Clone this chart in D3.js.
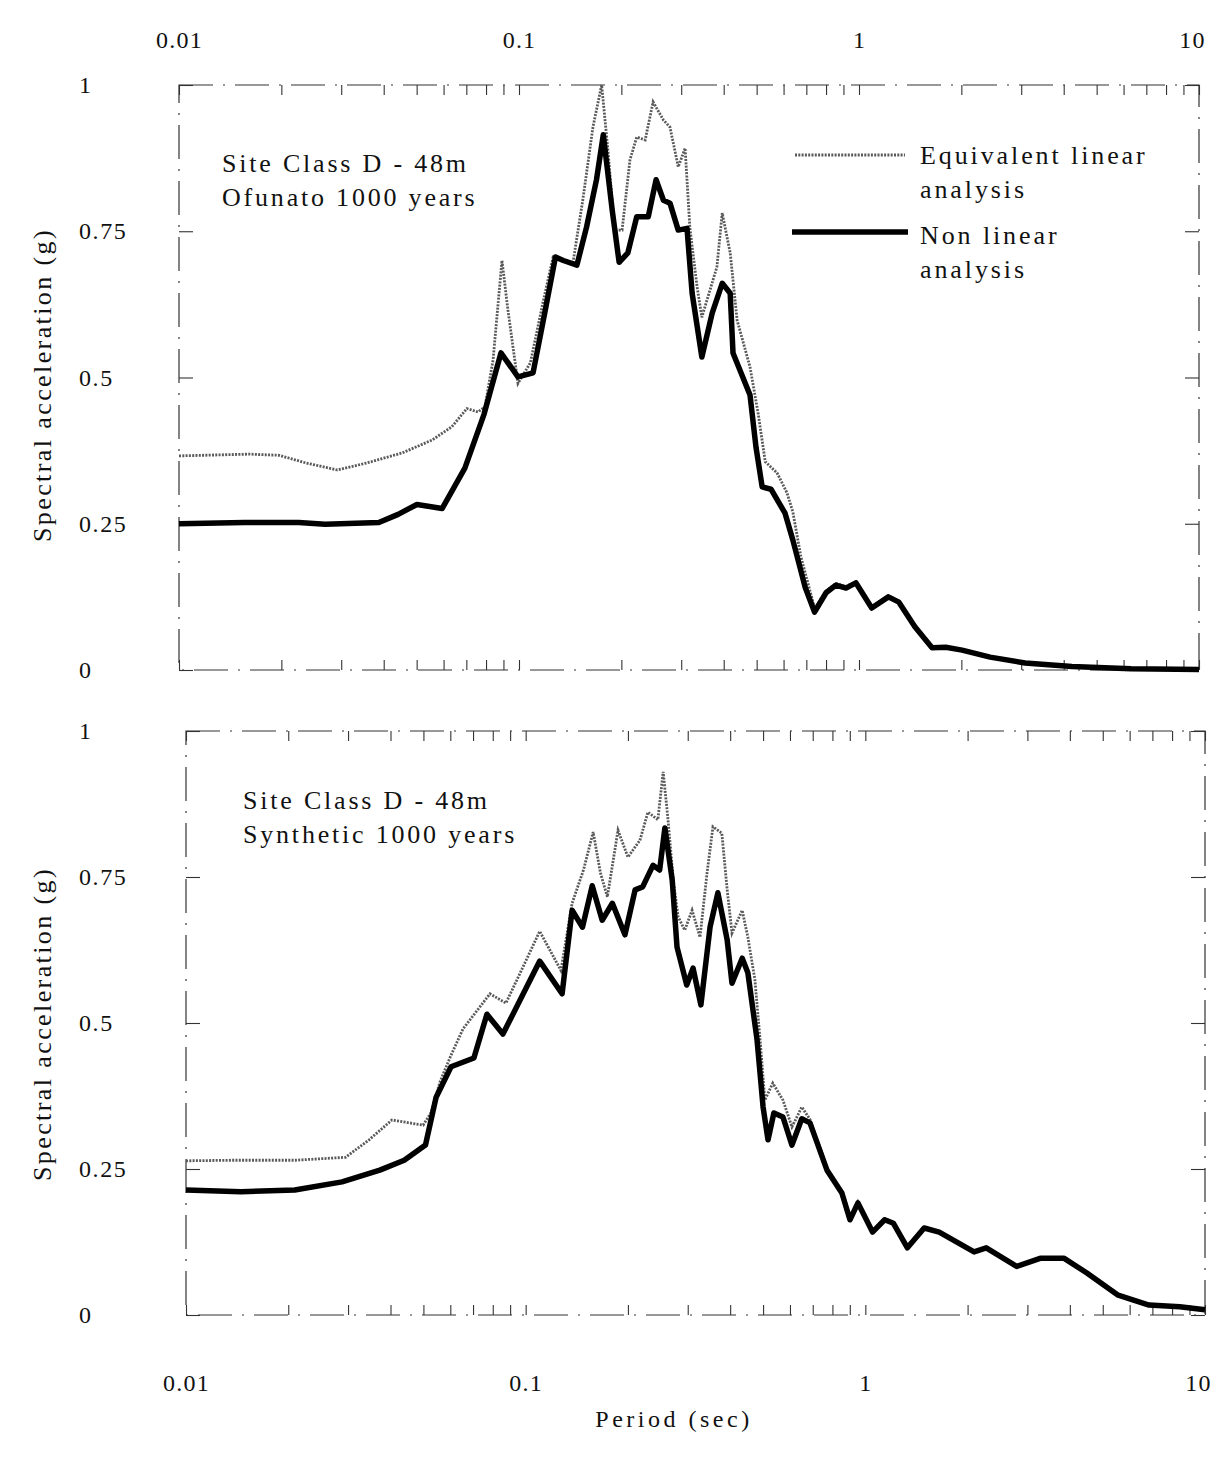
<!DOCTYPE html>
<html><head><meta charset="utf-8">
<script src="https://cdn.jsdelivr.net/npm/d3@7"></script>
<style>
body{margin:0;background:#fff}
svg{display:block}
text{font-family:"Liberation Serif","Times New Roman",serif;fill:#111}
</style>
</head><body>
<svg id="chart" width="1217" height="1458"></svg>
<script>
// ---------- data ----------
const xTickValues = [0.01, 0.1, 1, 10];
const yTickValues = [0, 0.25, 0.5, 0.75, 1];
const seriesNames = [["Equivalent linear", "analysis"], ["Non linear", "analysis"]];
const panelTitles = [["Site Class D - 48m", "Ofunato 1000 years"], ["Site Class D - 48m", "Synthetic 1000 years"]];
const xTitle = "Period (sec)";
const yTitle = "Spectral acceleration (g)";

const ofunatoNlPeriod = [0.01,0.0156,0.0225,0.0269,0.0387,0.0441,0.0501,0.0594,0.0693,0.0789,0.0885,0.0993,0.110,0.119,0.128,0.135,0.148,0.158,0.169,0.177,0.188,0.197,0.209,0.222,0.240,0.253,0.266,0.278,0.294,0.312,0.323,0.345,0.370,0.396,0.418,0.426,0.478,0.498,0.519,0.551,0.606,0.639,0.694,0.740,0.800,0.855,0.916,0.979,1.09,1.22,1.31,1.46,1.64,1.80,2.01,2.43,3.08,4.23,6.31,10];
const ofunatoNlValue = [0.250,0.252,0.252,0.249,0.252,0.266,0.283,0.276,0.345,0.437,0.542,0.501,0.508,0.610,0.706,0.700,0.692,0.757,0.838,0.915,0.786,0.697,0.713,0.775,0.775,0.838,0.803,0.798,0.752,0.755,0.644,0.535,0.610,0.661,0.644,0.542,0.470,0.380,0.313,0.309,0.268,0.222,0.142,0.099,0.132,0.145,0.140,0.149,0.106,0.125,0.116,0.074,0.038,0.039,0.034,0.022,0.012,0.006,0.002,0.001];

const ofunatoEqPeriod = [0.01,0.0161,0.0197,0.0236,0.0292,0.0357,0.0453,0.0555,0.0635,0.0703,0.0757,0.0794,0.0839,0.0891,0.0928,0.0993,0.108,0.118,0.126,0.144,0.154,0.165,0.175,0.183,0.191,0.201,0.212,0.222,0.235,0.248,0.266,0.278,0.294,0.308,0.318,0.334,0.345,0.382,0.396,0.418,0.438,0.478,0.505,0.530,0.574,0.614,0.639,0.675,0.720,0.740,0.800,0.855,0.916,0.979,1.09,1.22,1.31,1.46,1.64,1.80,2.01,2.43,3.08,4.23,6.31,10];
const ofunatoEqValue = [0.366,0.369,0.367,0.354,0.342,0.354,0.371,0.393,0.416,0.447,0.441,0.450,0.530,0.700,0.615,0.490,0.525,0.632,0.706,0.695,0.803,0.928,1.000,0.883,0.752,0.752,0.872,0.911,0.906,0.971,0.940,0.928,0.860,0.892,0.757,0.655,0.603,0.689,0.781,0.713,0.598,0.518,0.439,0.356,0.337,0.303,0.270,0.193,0.132,0.105,0.135,0.148,0.143,0.151,0.108,0.127,0.118,0.075,0.039,0.040,0.035,0.023,0.013,0.006,0.002,0.001];

const syntheticNlPeriod = [0.01,0.0145,0.0209,0.0288,0.0372,0.0439,0.0507,0.0545,0.0603,0.0704,0.0769,0.0857,0.110,0.128,0.137,0.147,0.157,0.168,0.180,0.196,0.210,0.221,0.237,0.248,0.257,0.270,0.279,0.298,0.311,0.328,0.349,0.368,0.392,0.405,0.434,0.451,0.480,0.500,0.517,0.538,0.572,0.608,0.650,0.687,0.771,0.853,0.901,0.951,1.05,1.14,1.21,1.33,1.49,1.65,2.09,2.27,2.79,3.27,3.85,4.49,5.55,6.84,8.43,10];
const syntheticNlValue = [0.214,0.211,0.214,0.228,0.248,0.265,0.291,0.373,0.425,0.440,0.515,0.481,0.606,0.550,0.693,0.664,0.735,0.676,0.705,0.651,0.728,0.733,0.770,0.762,0.834,0.745,0.630,0.565,0.594,0.531,0.664,0.723,0.642,0.568,0.611,0.586,0.471,0.356,0.300,0.346,0.339,0.291,0.336,0.329,0.248,0.209,0.163,0.192,0.142,0.163,0.157,0.115,0.149,0.142,0.108,0.115,0.083,0.097,0.097,0.072,0.034,0.017,0.014,0.009];

const syntheticEqPeriod = [0.01,0.0138,0.0209,0.0295,0.0346,0.0404,0.0499,0.0526,0.056,0.0603,0.0654,0.0785,0.0875,0.110,0.127,0.137,0.148,0.158,0.166,0.174,0.187,0.200,0.217,0.229,0.245,0.254,0.262,0.272,0.281,0.294,0.309,0.326,0.342,0.356,0.378,0.392,0.405,0.434,0.451,0.473,0.490,0.506,0.534,0.572,0.608,0.650,0.687,0.771,0.853,0.901,0.951,1.05,1.14,1.21,1.33,1.49,1.65,2.09,2.27,2.79,3.27,3.85,4.49,5.55,6.84,8.43,10];
const syntheticEqValue = [0.264,0.265,0.265,0.270,0.300,0.334,0.325,0.346,0.400,0.445,0.490,0.550,0.534,0.657,0.590,0.705,0.762,0.827,0.757,0.716,0.830,0.784,0.813,0.861,0.848,0.930,0.853,0.745,0.682,0.659,0.693,0.647,0.757,0.836,0.825,0.728,0.654,0.693,0.647,0.574,0.471,0.368,0.397,0.368,0.322,0.356,0.335,0.252,0.212,0.166,0.194,0.144,0.165,0.158,0.116,0.150,0.143,0.109,0.116,0.084,0.098,0.098,0.073,0.035,0.018,0.015,0.010];

// ---------- layout ----------
const svg = d3.select("#chart");
const panels = [
  {x0:179, x1:1199, yTop:85, yBot:670, labelsTop:true, titleX:222, titleY:172,
   eq:d3.zip(ofunatoEqPeriod, ofunatoEqValue), nl:d3.zip(ofunatoNlPeriod, ofunatoNlValue), titles:panelTitles[0], legend:true, yTitleC:385},
  {x0:186, x1:1205, yTop:731, yBot:1315, labelsTop:false, titleX:243, titleY:809,
   eq:d3.zip(syntheticEqPeriod, syntheticEqValue), nl:d3.zip(syntheticNlPeriod, syntheticNlValue), titles:panelTitles[1], legend:false, yTitleC:1024}
];

const minorTicks = [];
[0.01, 0.1, 1].forEach(d => { for (let m = 1; m <= 9; m++) minorTicks.push(d * m); });
minorTicks.push(10);

const eqStyle = sel => sel.attr("fill", "none").attr("stroke", "#5a5a5a")
  .attr("stroke-width", 2.8).attr("stroke-dasharray", "2,1.3");

panels.forEach(p => {
  const x = d3.scaleLog().domain([0.01, 10]).range([p.x0, p.x1]);
  const y = d3.scaleLinear().domain([0, 1]).range([p.yBot, p.yTop]);
  const g = svg.append("g");

  // broken frame
  g.append("rect").attr("x", p.x0).attr("y", p.yTop)
    .attr("width", p.x1 - p.x0).attr("height", p.yBot - p.yTop)
    .attr("fill", "none").attr("stroke", "#333").attr("stroke-width", 1.2)
    .attr("stroke-dasharray", "34,10,2,10");

  const strip = sel => { sel.select(".domain").remove(); sel.selectAll("line").attr("stroke", "#333").attr("stroke-width", 1.1); };

  // minor x ticks on top and bottom frame (inward)
  g.append("g").attr("transform", `translate(0,${p.yBot})`)
    .call(d3.axisBottom(x).tickValues(minorTicks).tickSize(-10).tickFormat("")).call(strip);
  g.append("g").attr("transform", `translate(0,${p.yTop})`)
    .call(d3.axisTop(x).tickValues(minorTicks).tickSize(-10).tickFormat("")).call(strip);

  // y ticks left and right (inward)
  g.append("g").attr("transform", `translate(${p.x0},0)`)
    .call(d3.axisLeft(y).tickValues(yTickValues).tickSize(-14).tickFormat("")).call(strip);
  g.append("g").attr("transform", `translate(${p.x1},0)`)
    .call(d3.axisRight(y).tickValues(yTickValues).tickSize(-14).tickFormat("")).call(strip);

  // y labels (left aligned)
  const yl = g.append("g").attr("transform", `translate(${p.x0},0)`)
    .call(d3.axisLeft(y).tickValues(yTickValues).tickSize(0).tickFormat(d => d));
  yl.select(".domain").remove();
  yl.selectAll("text").attr("x", 79 - p.x0).attr("text-anchor", "start")
    .attr("font-size", 24).attr("letter-spacing", 1.6)
    .style("font-family", '"Liberation Serif",serif').attr("fill", "#111");

  // x labels
  let xl;
  if (p.labelsTop) {
    xl = g.append("g").attr("transform", `translate(0,${p.yTop})`)
      .call(d3.axisTop(x).tickValues(xTickValues).tickSize(0).tickPadding(37).tickFormat(d => d));
  } else {
    xl = g.append("g").attr("transform", `translate(0,${p.yBot})`)
      .call(d3.axisBottom(x).tickValues(xTickValues).tickSize(0).tickPadding(59).tickFormat(d => d));
  }
  xl.select(".domain").remove();
  xl.selectAll("text").attr("font-size", 24).attr("letter-spacing", 1.2)
    .style("font-family", '"Liberation Serif",serif').attr("fill", "#111")
    .attr("dx", d => (d === 10 ? -7 : 0));

  // curves
  const line = d3.line().x(d => x(d[0])).y(d => y(d[1]));
  g.append("path").datum(p.eq).attr("d", line).call(eqStyle);
  g.append("path").datum(p.nl).attr("d", line).attr("fill", "none")
    .attr("stroke", "#000").attr("stroke-width", 5.5).attr("stroke-linejoin", "round");

  // panel title
  p.titles.forEach((t, i) => {
    g.append("text").attr("x", p.titleX).attr("y", p.titleY + i * 34)
      .attr("font-size", 26).attr("letter-spacing", 2.8).text(t);
  });

  // y title
  g.append("text").attr("transform", `translate(51,${p.yTitleC}) rotate(-90)`)
    .attr("text-anchor", "middle").attr("font-size", 26).attr("letter-spacing", 2.4).text(yTitle);

  // legend
  if (p.legend) {
    g.append("line").attr("x1", 795).attr("x2", 905).attr("y1", 155).attr("y2", 155).call(eqStyle);
    g.append("line").attr("x1", 792).attr("x2", 908).attr("y1", 232).attr("y2", 232)
      .attr("stroke", "#000").attr("stroke-width", 5.5);
    const ly = [164, 244];
    seriesNames.forEach((s, i) => {
      s.forEach((t, j) => {
        g.append("text").attr("x", 920).attr("y", ly[i] + j * 34)
          .attr("font-size", 26).attr("letter-spacing", 2.9).text(t);
      });
    });
  }
});

svg.append("text").attr("x", 674).attr("y", 1427).attr("text-anchor", "middle")
  .attr("font-size", 24).attr("letter-spacing", 3.5).text(xTitle);
</script>
</body></html>
